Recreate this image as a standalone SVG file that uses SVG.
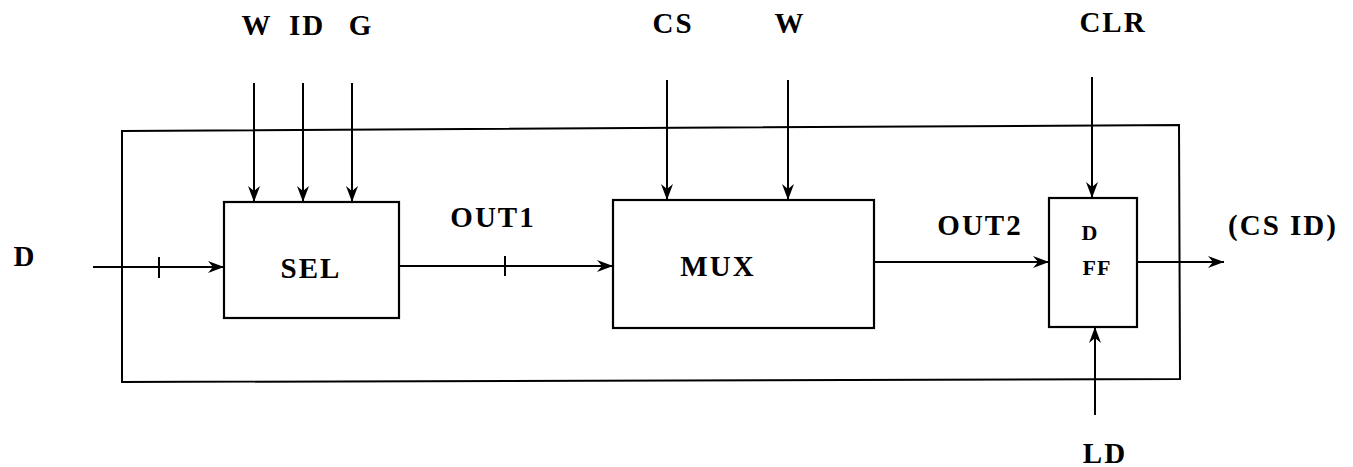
<svg xmlns="http://www.w3.org/2000/svg" width="1353" height="467" viewBox="0 0 1353 467">
<style>
.ln{stroke:#000;stroke-width:2;fill:none}
.bx{stroke:#000;stroke-width:2.2;fill:#fff}
.t{font-family:"Liberation Serif","Times New Roman",serif;font-weight:bold;font-size:29px;fill:#000;letter-spacing:2px}
.s{font-size:22px;letter-spacing:1px}
</style>
<defs>
<marker id="ah" viewBox="0 0 16 12" refX="16" refY="6" markerWidth="16" markerHeight="12" markerUnits="userSpaceOnUse" orient="auto">
<path d="M0,0 L16,6 L0,12 L5,6 z" fill="#000"/>
</marker>
</defs>
<g id="outer"><path class="ln" d="M122,131 L1179,125 L1180,379 L122,382 Z"/></g>
<g id="sel"><rect class="bx" x="224" y="202" width="175" height="116"/><text class="t" x="311" y="278" text-anchor="middle">SEL</text></g>
<g id="mux"><rect class="bx" x="613" y="200" width="261" height="128"/><text class="t" x="718" y="276" text-anchor="middle">MUX</text></g>
<g id="dff"><rect class="bx" x="1049" y="198" width="88" height="129"/><text class="t s" x="1090" y="240" text-anchor="middle">D</text><text class="t s" x="1097" y="275" text-anchor="middle">FF</text></g>
<g id="labels">
<text class="t" x="257" y="35" text-anchor="middle">W</text>
<text class="t" x="307" y="35" text-anchor="middle">ID</text>
<text class="t" x="361" y="35" text-anchor="middle">G</text>
<text class="t" x="673" y="33" text-anchor="middle">CS</text>
<text class="t" x="790" y="33" text-anchor="middle">W</text>
<text class="t" x="1113" y="32" text-anchor="middle">CLR</text>
<text class="t" x="25" y="266" text-anchor="middle">D</text>
<text class="t" x="493" y="227" text-anchor="middle">OUT1</text>
<text class="t" x="980" y="235" text-anchor="middle">OUT2</text>
<text class="t" x="1283" y="235" text-anchor="middle">(CS ID)</text>
<text class="t" x="1105" y="463" text-anchor="middle">LD</text>
</g>
<g id="connectors">
<line class="ln" x1="254" y1="83" x2="254" y2="202" marker-end="url(#ah)"/>
<line class="ln" x1="303" y1="83" x2="303" y2="202" marker-end="url(#ah)"/>
<line class="ln" x1="352" y1="83" x2="352" y2="202" marker-end="url(#ah)"/>
<line class="ln" x1="667" y1="80" x2="667" y2="200" marker-end="url(#ah)"/>
<line class="ln" x1="788" y1="80" x2="788" y2="200" marker-end="url(#ah)"/>
<line class="ln" x1="1092" y1="77" x2="1092" y2="198" marker-end="url(#ah)"/>
<line class="ln" x1="1095" y1="415" x2="1095" y2="327" marker-end="url(#ah)"/>
<line class="ln" x1="93" y1="267" x2="224" y2="267" marker-end="url(#ah)"/>
<line class="ln" x1="159" y1="257" x2="159" y2="278"/>
<line class="ln" x1="399" y1="266" x2="613" y2="266" marker-end="url(#ah)"/>
<line class="ln" x1="505" y1="256" x2="505" y2="276"/>
<line class="ln" x1="874" y1="262" x2="1049" y2="262" marker-end="url(#ah)"/>
<line class="ln" x1="1137" y1="262" x2="1224" y2="262" marker-end="url(#ah)"/>
</g>
</svg>
